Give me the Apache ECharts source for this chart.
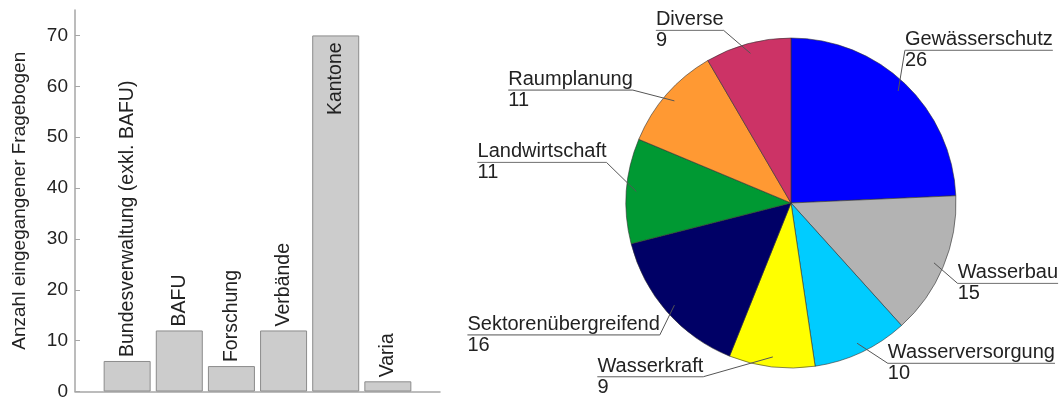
<!DOCTYPE html>
<html>
<head>
<meta charset="utf-8">
<script src="https://cdn.jsdelivr.net/npm/echarts@6/dist/echarts.min.js"></script>
<style>
  html, body { margin: 0; padding: 0; background: #fff; }
  #chart { width: 1061px; height: 401px; }
</style>
</head>
<body>
<div id="chart"></div>
<script>
// Balken: eingegangene Fragebogen
const groups = ['Bundesverwaltung (exkl. BAFU)', 'BAFU', 'Forschung', 'Verbände', 'Kantone', 'Varia']
const groupCounts = [6, 12, 5, 12, 70, 2]
const yTicks = [0, 10, 20, 30, 40, 50, 60, 70]

// Kuchen: Themenbereiche
const topics = ['Gewässerschutz', 'Wasserbau', 'Wasserversorgung', 'Wasserkraft',
  'Sektorenübergreifend', 'Landwirtschaft', 'Raumplanung', 'Diverse']
const topicCounts = [26, 15, 10, 9, 16, 11, 11, 9]
const topicColors = ['#0000ff', '#b3b3b3', '#00ccff', '#ffff00',
  '#000066', '#009933', '#ff9933', '#cc3366']
// Verschiebung der Beschriftungen gegenüber der Standardlage (nur Stil)
const labelShift = [[-14, -19], [-4, 9], [18, -7], [-66, -10],
  [8, 10], [0, -27], [-19, 9], [-19, 6]]

const font = 'Liberation Sans, Arial, sans-serif'
const textColor = '#222'

const chart = echarts.init(document.getElementById('chart'))

const barData = groups.map((g, i) => {
  const item = { value: [i + 1, groupCounts[i]], name: g }
  // Kantone: Beschriftung im Balken
  if (g === 'Kantone') {
    item.label = { position: 'insideTop', align: 'right', distance: 7 }
  }
  return item
})

const option = {
  animation: false,
  textStyle: { fontFamily: font },
  grid: { left: 75, top: 10, width: 365, height: 382, containLabel: false },
  xAxis: {
    type: 'value',
    min: 0,
    max: 7,
    axisLine: { show: true, lineStyle: { color: '#a6a6a6', width: 1.5 } },
    axisTick: { show: false },
    axisLabel: { show: false },
    splitLine: { show: false }
  },
  yAxis: {
    type: 'value',
    min: 0,
    max: 75,
    interval: 10,
    name: 'Anzahl eingegangener Fragebogen',
    nameLocation: 'middle',
    nameRotate: 90,
    nameGap: 46,
    nameTextStyle: { fontSize: 19, color: textColor, fontFamily: font },
    axisLine: { show: true, lineStyle: { color: '#a6a6a6', width: 1.5 } },
    axisTick: { show: true, inside: true, length: 5, lineStyle: { color: '#a6a6a6' } },
    axisLabel: {
      fontSize: 19,
      color: textColor,
      margin: 7,
      showMaxLabel: false,
      formatter: v => (yTicks.includes(v) ? String(v) : '')
    },
    splitLine: { show: false }
  },
  series: [
    {
      type: 'bar',
      data: barData,
      barWidth: 47,
      itemStyle: { color: '#cccccc', borderColor: '#8c8c8c', borderWidth: 1 },
      label: {
        show: true,
        position: 'top',
        rotate: 90,
        align: 'left',
        verticalAlign: 'middle',
        distance: 4,
        fontSize: 19.5,
        color: textColor,
        fontFamily: font,
        formatter: p => p.name
      }
    },
    {
      type: 'pie',
      center: [791, 203],
      radius: 165,
      startAngle: 90,
      silent: true,
      z: 2,
      data: topics.map((t, i) => ({ name: t, value: topicCounts[i] })),
      color: topicColors,
      itemStyle: { borderColor: '#333', borderWidth: 0.6 },
      label: { show: false },
      labelLine: { show: false }
    },
    {
      // unsichtbarer Ring nur für die Beschriftungen (Linien beginnen im Segment)
      type: 'pie',
      center: [791, 203],
      radius: 155,
      startAngle: 90,
      silent: true,
      z: 5,
      avoidLabelOverlap: false,
      data: topics.map((t, i) => ({ name: t, value: topicCounts[i] })),
      itemStyle: { color: 'rgba(0,0,0,0)', borderWidth: 0 },
      label: {
        show: true,
        position: 'outer',
        overflow: 'none',
        distanceToLabelLine: 0,
        color: textColor,
        fontFamily: font,
        formatter: p => `{n|${p.name}}\n{hr|}\n{v|${p.value}}`,
        rich: {
          n: { fontSize: 20, lineHeight: 21, color: textColor, fontFamily: font, align: 'left' },
          hr: { width: '100%', height: 0, borderWidth: 0.8, borderColor: '#777' },
          v: { fontSize: 20, lineHeight: 21, color: textColor, fontFamily: font, align: 'left' }
        }
      },
      labelLine: {
        show: true,
        length: 30,
        length2: 0,
        smooth: false,
        lineStyle: { color: '#555', width: 1 }
      },
      labelLayout: params => {
        const pts = params.labelLinePoints
        if (!pts) return {}
        const s = labelShift[params.dataIndex]
        const end = [pts[2][0] + s[0], pts[2][1] + s[1]]
        return { x: end[0], y: end[1], labelLinePoints: [pts[0], end, end] }
      }
    }
  ]
}

chart.setOption(option)
</script>
</body>
</html>
